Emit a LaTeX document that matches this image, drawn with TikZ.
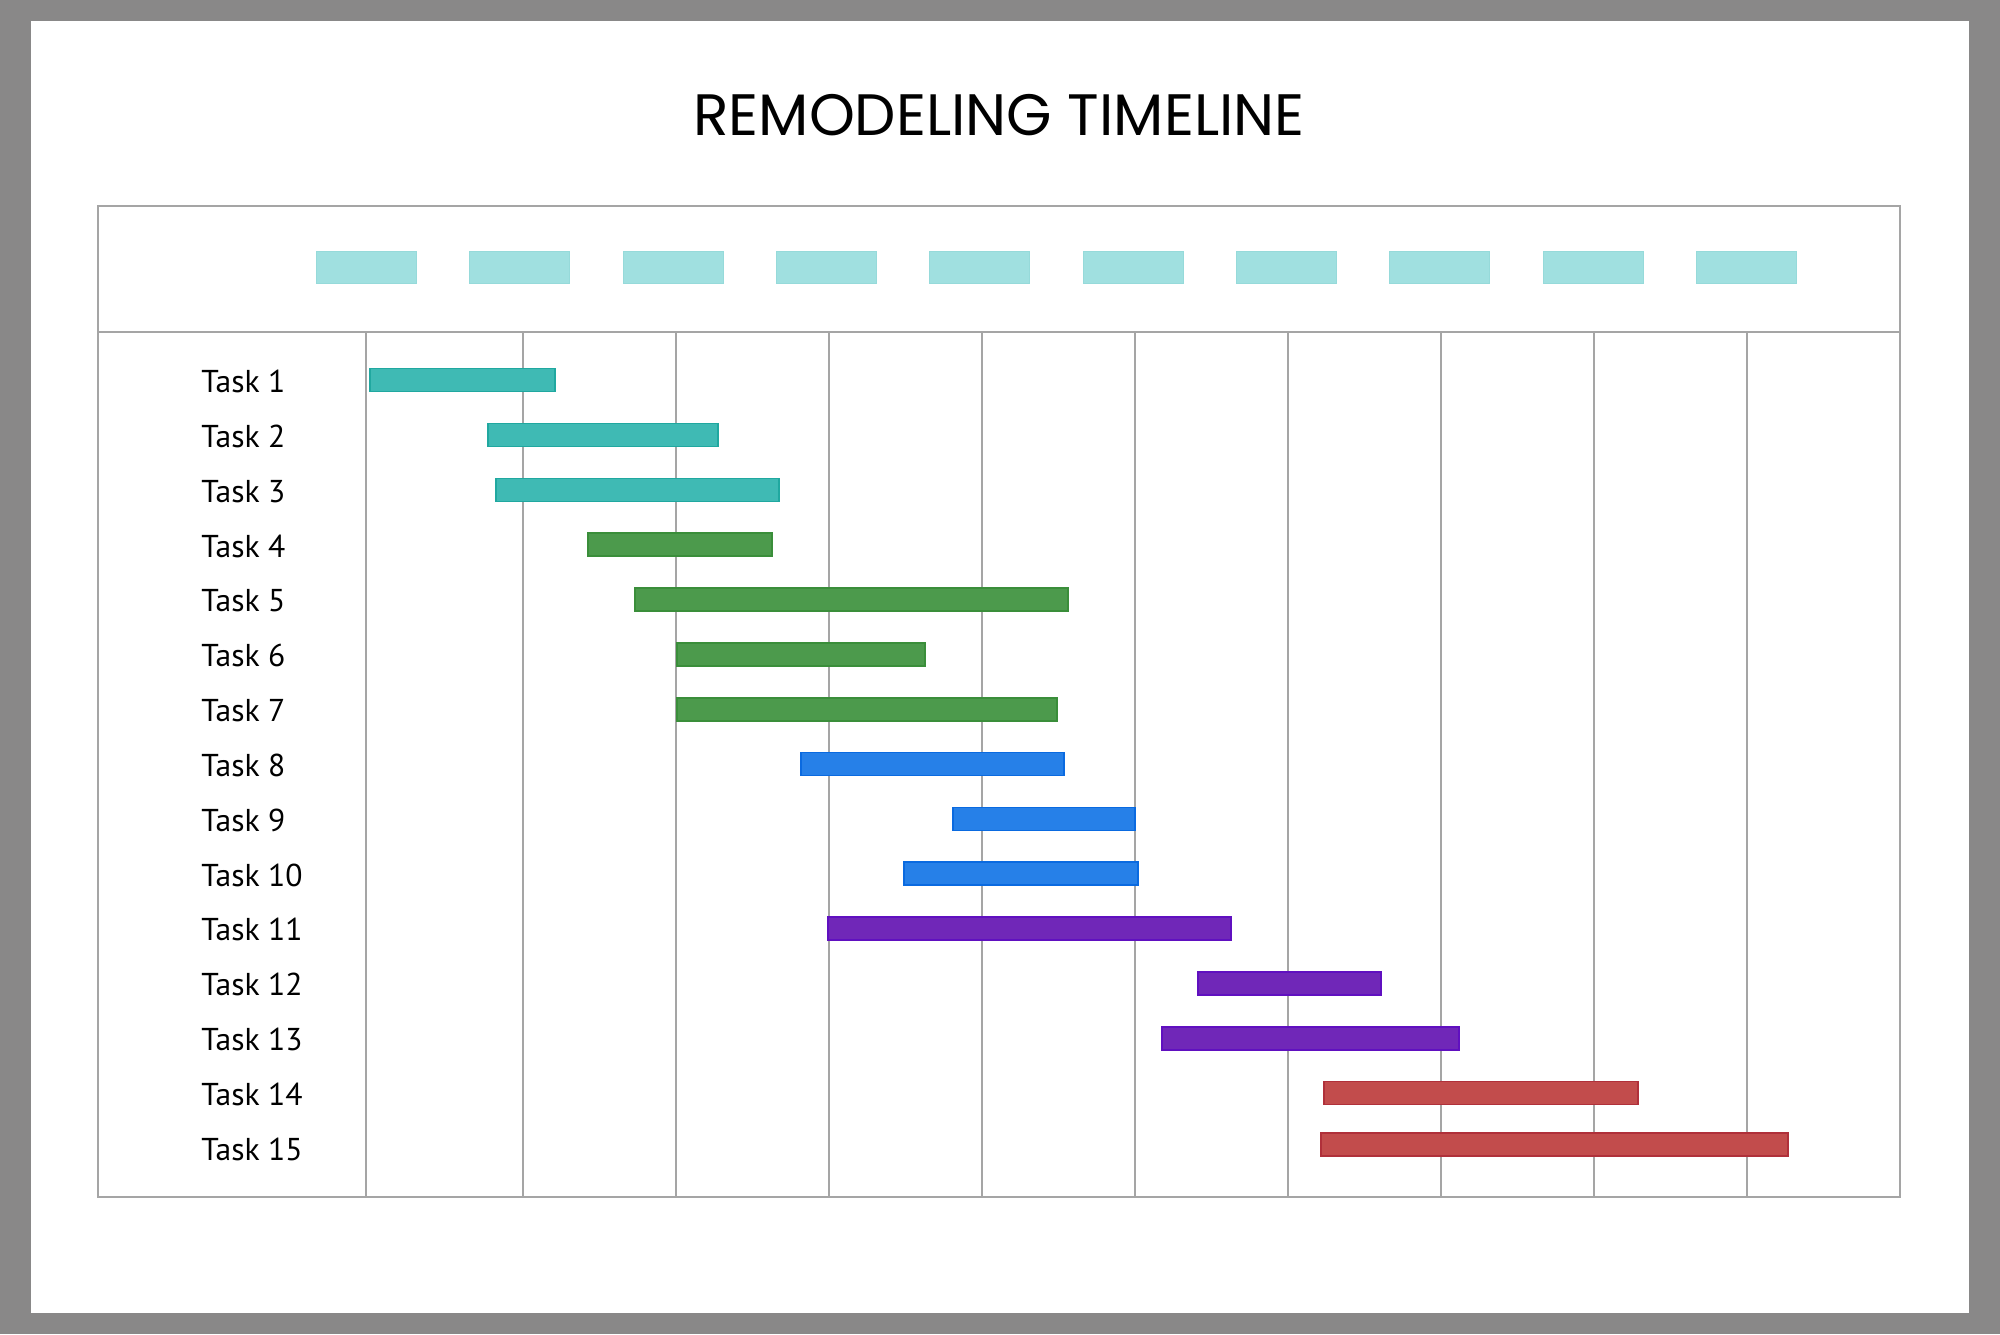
\documentclass[tikz,border=0pt]{standalone}
\usepackage{fontspec}
\setmainfont{PT Sans}
\newfontfamily\titlefont{Poppins}
\begin{document}
\begin{tikzpicture}[x=0.5pt,y=-0.5pt,
  framecol/.style={draw=gridgray, line width=1pt},
  gridline/.style={draw=gridgray, line width=0.9pt},
  hdrbox/.style={fill=hdrfill, draw=hdredge, line width=0.4pt},
  bar/.style={line width=0.8pt},
  tasklabel/.style={anchor=base west, inner sep=0pt, font=\fontsize{15.8}{18}\selectfont},
  titlestyle/.style={anchor=base, inner sep=0pt, font=\titlefont\fontsize{29.2}{34}\selectfont}]
\definecolor{outergray}{RGB}{137,136,136}
\definecolor{gridgray}{RGB}{165,165,165}
\definecolor{hdrfill}{RGB}{160,224,224}
\definecolor{hdredge}{RGB}{150,218,218}
\definecolor{tealF}{RGB}{63,186,180}\definecolor{tealE}{RGB}{32,168,160}
\definecolor{greenF}{RGB}{76,154,76}\definecolor{greenE}{RGB}{58,142,58}
\definecolor{blueF}{RGB}{38,128,232}\definecolor{blueE}{RGB}{10,106,224}
\definecolor{purpF}{RGB}{112,39,184}\definecolor{purpE}{RGB}{96,16,192}
\definecolor{redF}{RGB}{194,76,76}\definecolor{redE}{RGB}{176,48,58}
\useasboundingbox (0,0) rectangle (2000,1334);
\fill[outergray] (0,0) rectangle (2000,1334);
\fill[white] (31,21) rectangle (1969,1313);
% title
\node[titlestyle] (title) at (999,135) {REMODELING TIMELINE};
% frame
\draw[framecol] (98,206) rectangle (1900,1197);
\draw[framecol] (98,332) -- (1900,332);
\draw[gridline] (366,332) -- (366,1197);
\foreach \i in {0,...,8}{
  \draw[gridline] ({523+153.0*\i},332) -- ({523+153.0*\i},1197);
}
\foreach \i in {0,...,9}{
  \path[hdrbox] ({366.5+153.3*\i-50},251) rectangle ({366.5+153.3*\i+50},283);
}
% bars: start, end, center y, colour
\foreach \s/\e/\y/\c in {
  370/555/380.1/teal, 488/718/434.9/teal, 496/779/489.8/teal,
  588/772/544.6/green, 635/1068/599.5/green, 677/925/654.3/green, 677/1057/709.2/green,
  801/1064/764.0/blue, 953/1135/818.9/blue, 904/1138/873.7/blue,
  828/1231/928.6/purp, 1198/1381/983.4/purp, 1162/1459/1038.3/purp,
  1324/1638/1093.1/red, 1321/1788/1144.5/red}{
  \path[bar, fill=\c F, draw=\c E] (\s,\y-11.5) rectangle (\e,\y+11.5);
}
% labels
\foreach \n/\y in {1/392,2/447,3/502,4/557,5/611,6/666,7/721,8/776,9/831,10/886,11/940,12/995,13/1050,14/1105,15/1160}{
  \node[tasklabel] (t\n) at (201,\y) {Task \n};
}
\end{tikzpicture}
\end{document}
